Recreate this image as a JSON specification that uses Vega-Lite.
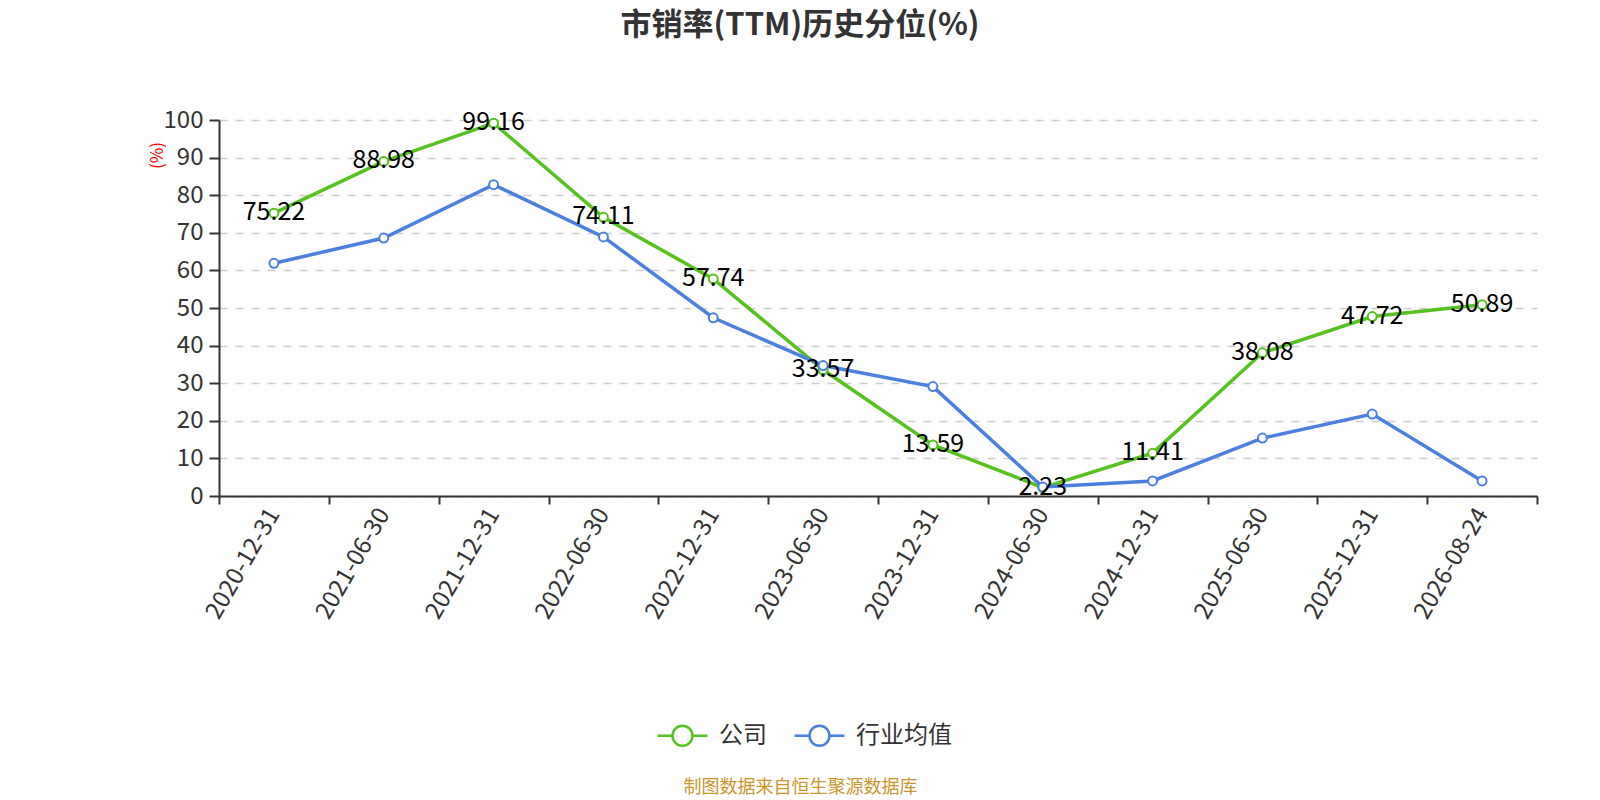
{
  "$schema": "https://vega.github.io/schema/vega-lite/v6.json",
  "width": 1318,
  "height": 376,
  "autosize": {"type": "none"},
  "padding": {"left": 219, "top": 120, "right": 63, "bottom": 304},
  "background": "white",
  "config": {
    "font": "Noto Sans CJK SC",
    "view": {"stroke": null},
    "legend": {
      "orient": "none",
      "legendX": 437,
      "legendY": 589,
      "direction": "horizontal",
      "title": null,
      "symbolType": "M-1,0 L-0.4,0 M0.4,0 L1,0 M0.4,0 A0.4,0.4 0 1 1 -0.4,0 A0.4,0.4 0 1 1 0.4,0 Z",
      "symbolSize": 2500,
      "symbolStrokeWidth": 2.5,
      "symbolFillColor": "white",
      "labelFontSize": 24,
      "labelColor": "#333333",
      "labelOffset": 10,
      "columnPadding": 22
    }
  },
  "title": {
    "text": "市销率(TTM)历史分位(%)",
    "fontSize": 31,
    "fontWeight": "bold",
    "color": "#333333",
    "anchor": "middle",
    "frame": "group",
    "dx": -78,
    "offset": 66
  },
  "data": {
    "values": [
      {"date": "2020-12-31", "series": "公司", "value": 75.22},
      {"date": "2021-06-30", "series": "公司", "value": 88.98},
      {"date": "2021-12-31", "series": "公司", "value": 99.16},
      {"date": "2022-06-30", "series": "公司", "value": 74.11},
      {"date": "2022-12-31", "series": "公司", "value": 57.74},
      {"date": "2023-06-30", "series": "公司", "value": 33.57},
      {"date": "2023-12-31", "series": "公司", "value": 13.59},
      {"date": "2024-06-30", "series": "公司", "value": 2.23},
      {"date": "2024-12-31", "series": "公司", "value": 11.41},
      {"date": "2025-06-30", "series": "公司", "value": 38.08},
      {"date": "2025-12-31", "series": "公司", "value": 47.72},
      {"date": "2026-08-24", "series": "公司", "value": 50.89},
      {"date": "2020-12-31", "series": "行业均值", "value": 61.9},
      {"date": "2021-06-30", "series": "行业均值", "value": 68.6},
      {"date": "2021-12-31", "series": "行业均值", "value": 82.8},
      {"date": "2022-06-30", "series": "行业均值", "value": 68.9},
      {"date": "2022-12-31", "series": "行业均值", "value": 47.4},
      {"date": "2023-06-30", "series": "行业均值", "value": 34.7},
      {"date": "2023-12-31", "series": "行业均值", "value": 29.1},
      {"date": "2024-06-30", "series": "行业均值", "value": 2.4},
      {"date": "2024-12-31", "series": "行业均值", "value": 4.0},
      {"date": "2025-06-30", "series": "行业均值", "value": 15.4},
      {"date": "2025-12-31", "series": "行业均值", "value": 21.8},
      {"date": "2026-08-24", "series": "行业均值", "value": 4.0}
    ]
  },
  "encoding": {
    "x": {
      "field": "date",
      "type": "ordinal",
      "sort": null,
      "scale": {"type": "band", "paddingInner": 0, "paddingOuter": 0},
      "axis": {
        "title": "制图数据来自恒生聚源数据库",
        "titleColor": "#c9962b",
        "titleFontSize": 18,
        "titleFontWeight": "normal",
        "titleX": 581,
        "titleY": 291,
        "titleAlign": "center",
        "titleBaseline": "middle",
        "tickBand": "extent",
        "labelAngle": -60,
        "labelAlign": "right",
        "labelBaseline": "middle",
        "labelFontSize": 24,
        "labelColor": "#333333",
        "labelPadding": 6,
        "tickSize": 8,
        "tickColor": "#333333",
        "tickWidth": 2,
        "domainColor": "#333333",
        "domainWidth": 2,
        "grid": false
      }
    },
    "y": {
      "field": "value",
      "type": "quantitative",
      "scale": {"domain": [0, 100], "nice": false},
      "axis": {
        "values": [0, 10, 20, 30, 40, 50, 60, 70, 80, 90, 100],
        "title": "(%)",
        "titleColor": "red",
        "titleFontSize": 17,
        "titleFontWeight": "normal",
        "titleX": -62,
        "titleY": 35,
        "titleAlign": "center",
        "titleBaseline": "middle",
        "labelFontSize": 24,
        "labelColor": "#333333",
        "labelPadding": 6,
        "tickSize": 10,
        "tickColor": "#333333",
        "tickWidth": 2,
        "domainColor": "#333333",
        "domainWidth": 2,
        "grid": true,
        "gridColor": "#cccccc",
        "gridDash": [8, 8],
        "gridWidth": 1.5
      }
    },
    "color": {
      "field": "series",
      "type": "nominal",
      "scale": {"domain": ["公司", "行业均值"], "range": ["#56c21e", "#4c80e0"]},
      "legend": {}
    }
  },
  "layer": [
    {"mark": {"type": "line", "strokeWidth": 3.5}},
    {"mark": {"type": "point", "filled": false, "fill": "white", "size": 80, "strokeWidth": 2, "opacity": 1}},
    {
      "transform": [{"filter": "datum.series === '公司'"}],
      "mark": {"type": "text", "fontSize": 25, "color": "#000000", "baseline": "middle", "align": "center", "dy": -1},
      "encoding": {
        "text": {"field": "value", "type": "quantitative", "format": ".2f"},
        "color": {"value": "#000000"}
      }
    }
  ]
}
